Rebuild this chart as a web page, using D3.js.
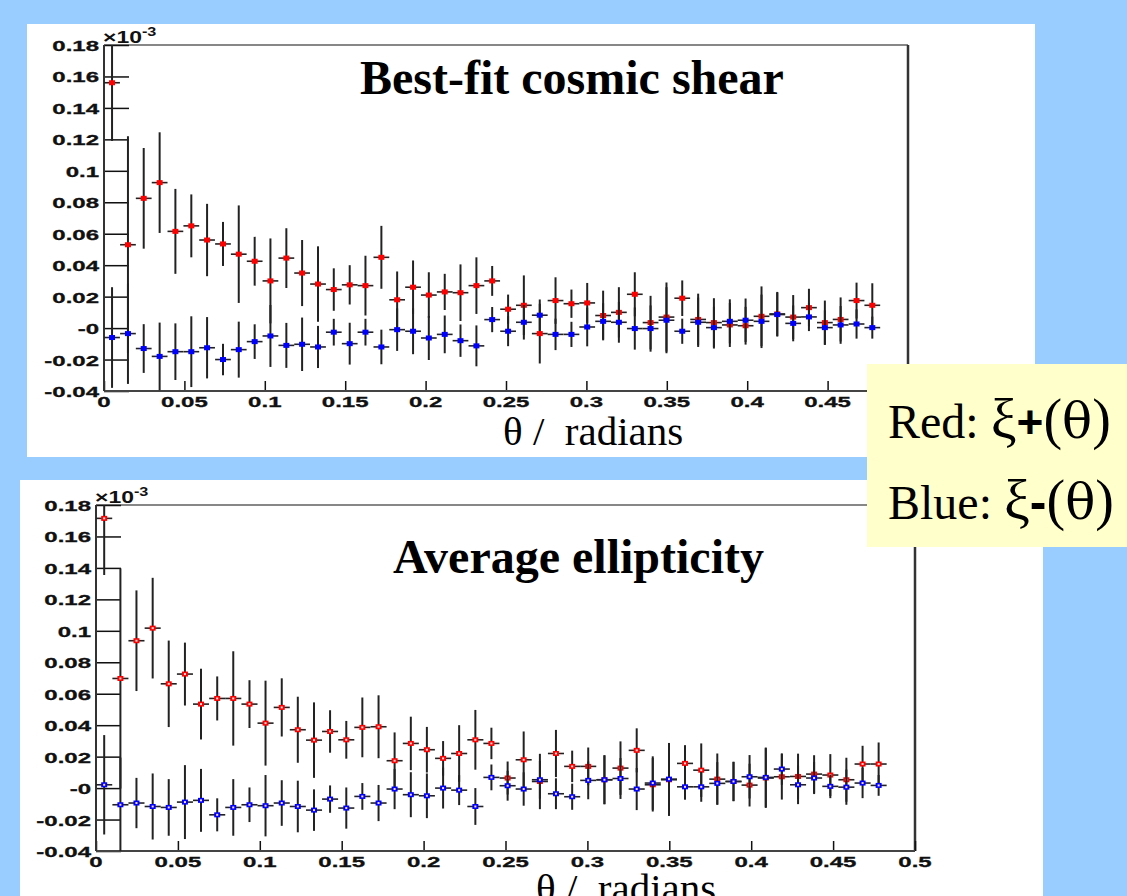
<!DOCTYPE html>
<html>
<head>
<meta charset="utf-8">
<script src="https://cdn.jsdelivr.net/npm/d3@7/dist/d3.min.js"></script>
<style>
body{margin:0;background:#99ccff;}
svg{display:block;}
</style>
</head>
<body>
<script>
// bin centres (radians)
const theta=[0.0050,0.0149,0.0247,0.0346,0.0444,0.0543,0.0641,0.0740,0.0838,0.0937,
 0.1035,0.1134,0.1232,0.1331,0.1429,0.1528,0.1626,0.1725,0.1823,0.1922,
 0.2020,0.2119,0.2217,0.2316,0.2414,0.2513,0.2611,0.2710,0.2808,0.2907,
 0.3005,0.3104,0.3202,0.3301,0.3399,0.3498,0.3596,0.3695,0.3793,0.3892,
 0.3990,0.4089,0.4187,0.4286,0.4384,0.4483,0.4581,0.4680,0.4778];
const binHalf=0.0049;

// best-fit cosmic shear (x1e-3)
const shearPlus=[0.156,0.053,0.0825,0.0925,0.0615,0.065,0.056,0.0535,0.047,0.0425,
 0.030,0.0445,0.035,0.028,0.0245,0.0275,0.027,0.045,0.018,0.026,
 0.021,0.023,0.0225,0.027,0.030,0.012,0.0145,-0.0035,0.0175,0.0155,
 0.016,0.008,0.010,0.0215,0.0035,0.007,0.019,0.0055,0.0035,0.002,
 0.0015,0.0075,0.009,0.007,0.013,0.0035,0.0055,0.0175,0.0145];
const shearPlusErr=[0.037,0.069,0.032,0.032,0.027,0.020,0.023,0.014,0.031,0.0155,
 0.027,0.019,0.021,0.024,0.0135,0.0125,0.019,0.020,0.018,0.017,
 0.0145,0.0115,0.018,0.018,0.0095,0.0093,0.019,0.019,0.0148,0.009,
 0.0127,0.0158,0.016,0.014,0.017,0.022,0.0113,0.0164,0.0155,0.014,
 0.012,0.019,0.014,0.014,0.012,0.014,0.014,0.0114,0.014];
const shearMinus=[-0.006,-0.0035,-0.013,-0.018,-0.015,-0.015,-0.0125,-0.020,-0.0137,-0.0086,
 -0.005,-0.011,-0.0103,-0.012,-0.0026,-0.0099,-0.0026,-0.012,-0.001,-0.002,
 -0.0063,-0.004,-0.008,-0.0113,0.0054,-0.002,0.0037,0.0082,-0.004,-0.004,
 0.0007,0.0043,0.0037,-0.0003,-0.0003,0.005,-0.002,0.0037,0.0003,0.0043,
 0.005,0.0043,0.0086,0.003,0.0071,0.0003,0.002,0.0026,0.0003];
const shearMinusErr=[0.032,0.032,0.0155,0.0215,0.018,0.0225,0.0195,0.010,0.0178,0.011,
 0.0197,0.0143,0.017,0.0134,0.0085,0.0133,0.0085,0.011,0.0135,0.0146,
 0.014,0.012,0.0103,0.013,0.008,0.0095,0.011,0.010,0.010,0.008,
 0.0123,0.0115,0.013,0.0134,0.0147,0.021,0.008,0.0157,0.0133,0.014,
 0.0138,0.017,0.014,0.0114,0.009,0.011,0.012,0.0093,0.007];

// average ellipticity (x1e-3)
const ellipPlus=[0.1715,0.0697,0.0937,0.1017,0.0663,0.0725,0.0534,0.057,0.057,0.0534,
 0.0413,0.0513,0.0371,0.0305,0.036,0.0307,0.0386,0.039,0.0174,0.0284,
 0.0244,0.0189,0.022,0.0307,0.0284,0.0064,0.018,0.0042,0.022,0.0138,
 0.0138,0.0053,0.0127,0.024,0.0021,0.0053,0.0157,0.0114,0.0057,0.0042,
 0.0019,0.0064,0.0072,0.0074,0.0089,0.0083,0.0053,0.0153,0.0153];
const ellipPlusErr=[0.036,0.070,0.032,0.032,0.0275,0.020,0.0225,0.014,0.030,0.0152,
 0.027,0.0185,0.021,0.024,0.0135,0.012,0.019,0.020,0.018,0.017,
 0.0145,0.011,0.018,0.019,0.010,0.0105,0.018,0.0176,0.015,0.010,
 0.012,0.0156,0.017,0.014,0.017,0.023,0.0116,0.017,0.0163,0.0125,
 0.0136,0.019,0.0145,0.0145,0.012,0.0133,0.014,0.0116,0.0137];
const ellipMinus=[0.0021,-0.0106,-0.0095,-0.0117,-0.0123,-0.0089,-0.0078,-0.017,-0.0123,-0.0106,
 -0.0112,-0.0095,-0.0117,-0.014,-0.007,-0.0127,-0.0053,-0.0095,-0.0006,-0.0042,
 -0.0049,0.0,-0.0013,-0.0117,0.0068,0.0015,-0.0006,0.0053,-0.0036,-0.0055,
 0.0049,0.0053,0.0061,-0.0006,0.0032,0.0057,0.0008,0.0008,0.003,0.0042,
 0.0072,0.0068,0.0121,0.0021,0.0064,0.0011,0.0006,0.0032,0.0017];
const ellipMinusErr=[0.0316,0.030,0.016,0.021,0.018,0.0235,0.020,0.0105,0.018,0.011,
 0.0195,0.0145,0.0164,0.0132,0.0087,0.0131,0.0085,0.0115,0.0128,0.0143,
 0.0142,0.013,0.0095,0.0117,0.0082,0.0095,0.0106,0.012,0.0098,0.0083,
 0.012,0.0155,0.013,0.0134,0.017,0.023,0.0082,0.0095,0.0135,0.0125,
 0.0138,0.019,0.01,0.0123,0.0102,0.0075,0.0112,0.0096,0.0066];

const xTicks=[0,0.05,0.1,0.15,0.2,0.25,0.3,0.35,0.4,0.45,0.5];
const xTickLabels=["0","0.05","0.1","0.15","0.2","0.25","0.3","0.35","0.4","0.45","0.5"];
const yTicks=[0.18,0.16,0.14,0.12,0.1,0.08,0.06,0.04,0.02,0,-0.02,-0.04];
const yTickLabels=["0.18","0.16","0.14","0.12","0.1","0.08","0.06","0.04","0.02","-0","-0.02","-0.04"];

const W=1127,H=896;
const svg=d3.select("body").append("svg").attr("width",W).attr("height",H);
svg.append("rect").attr("width",W).attr("height",H).attr("fill","#99ccff");

const panels=[
  {title:"Best-fit cosmic shear",plus:shearPlus,plusErr:shearPlusErr,minus:shearMinus,minusErr:shearMinusErr,
   bg:[27,24,1008,433],l:104,r:908,t:45,b:391,titleX:360,titleY:94,labX:503,labY:445,hollow:false},
  {title:"Average ellipticity",plus:ellipPlus,plusErr:ellipPlusErr,minus:ellipMinus,minusErr:ellipMinusErr,
   bg:[20,480,1023,416],l:96,r:915,t:505,b:851,titleX:393,titleY:573,labX:536,labY:902,hollow:true}
];

const tickFont="'Liberation Sans',Arial,sans-serif";
const serif="'Liberation Serif','Times New Roman',serif";

panels.forEach((p,k)=>{
  const g=svg.append("g");
  g.append("rect").attr("x",p.bg[0]).attr("y",p.bg[1]).attr("width",p.bg[2]).attr("height",p.bg[3]).attr("fill","#fff");

  const x=d3.scaleLinear().domain([0,0.5]).range([p.l,p.r]);
  const y=d3.scaleLinear().domain([-0.04,0.18]).range([p.b,p.t]);

  g.append("clipPath").attr("id","clip"+k).append("rect")
    .attr("x",p.l).attr("y",p.t).attr("width",p.r-p.l).attr("height",p.b-p.t);

  // frame
  g.append("line").attr("x1",p.l).attr("x2",p.r).attr("y1",p.t).attr("y2",p.t).attr("stroke","#111").attr("stroke-width",1.2);
  g.append("line").attr("x1",p.r).attr("x2",p.r).attr("y1",p.t).attr("y2",p.b).attr("stroke","#333").attr("stroke-width",2.5);

  // ticks point inward, ROOT style
  const xa=g.append("g").attr("transform",`translate(0,${p.b})`);
  xa.call(d3.axisBottom(x).ticks(50).tickSize(-5).tickFormat(""));
  xa.call(d3.axisBottom(x).tickValues(xTicks).tickSize(-10).tickFormat(""));
  xa.selectAll(".domain").remove();
  xa.selectAll("line").attr("stroke","#111").attr("stroke-width",1.5);

  const ya=g.append("g").attr("transform",`translate(${p.l},0)`);
  ya.call(d3.axisLeft(y).ticks(44).tickSize(-12).tickFormat(""));
  ya.call(d3.axisLeft(y).tickValues(yTicks).tickSize(-25).tickFormat(""));
  ya.selectAll(".domain").remove();
  ya.selectAll("line").attr("stroke","#111").attr("stroke-width",1.5);

  g.append("line").attr("x1",p.l).attr("x2",p.r).attr("y1",p.b).attr("y2",p.b).attr("stroke","#444").attr("stroke-width",2.2);
  g.append("line").attr("x1",p.l).attr("x2",p.l).attr("y1",p.t).attr("y2",p.b).attr("stroke","#333").attr("stroke-width",2);

  // tick labels (stretched bold sans)
  g.selectAll("text.xl").data(xTicks).enter().append("text").attr("class","xl")
    .attr("transform",d=>`translate(${x(d)},${p.b+16}) scale(1.6,1)`)
    .attr("text-anchor","middle").attr("font-family",tickFont).attr("font-weight","bold")
    .attr("font-size",15).attr("fill","#111").attr("stroke","#111").attr("stroke-width",0.3)
    .text((d,i)=>xTickLabels[i]);
  g.selectAll("text.yl").data(yTicks).enter().append("text").attr("class","yl")
    .attr("transform",d=>`translate(${p.l-5},${y(d)+6}) scale(1.6,1)`)
    .attr("text-anchor","end").attr("font-family",tickFont).attr("font-weight","bold")
    .attr("font-size",15).attr("fill","#111").attr("stroke","#111").attr("stroke-width",0.3)
    .text((d,i)=>yTickLabels[i]);

  // exponent
  const ex=g.append("text").attr("transform",`translate(${p.l-1},${p.t-2}) scale(1.35,1)`)
    .attr("font-family",tickFont).attr("font-weight","bold").attr("font-size",17).attr("fill","#111");
  ex.append("tspan").text("×10");
  ex.append("tspan").attr("dy",-7).attr("font-size",12).text("-3");

  // data
  const plot=g.append("g").attr("clip-path",`url(#clip${k})`);
  const series=[{v:p.plus,e:p.plusErr,c:"#ff0000"},{v:p.minus,e:p.minusErr,c:"#0000ff"}];
  series.forEach(s=>{
    const sg=plot.append("g");
    sg.selectAll("line.v").data(theta).enter().append("line").attr("class","v")
      .attr("x1",d=>x(d)).attr("x2",d=>x(d))
      .attr("y1",(d,i)=>y(s.v[i]+s.e[i])).attr("y2",(d,i)=>y(s.v[i]-s.e[i]))
      .attr("stroke","#222").attr("stroke-width",2);
    sg.selectAll("line.h").data(theta).enter().append("line").attr("class","h")
      .attr("x1",d=>x(d-binHalf)).attr("x2",d=>x(d+binHalf))
      .attr("y1",(d,i)=>y(s.v[i])).attr("y2",(d,i)=>y(s.v[i]))
      .attr("stroke","#222").attr("stroke-width",1.6);
    sg.selectAll("rect.m").data(theta).enter().append("rect").attr("class","m")
      .attr("x",d=>x(d)-3).attr("y",(d,i)=>y(s.v[i])-2.5)
      .attr("width",6).attr("height",5).attr("fill",s.c);
    if(p.hollow){
      sg.selectAll("rect.hole").data(theta).enter().append("rect").attr("class","hole")
        .attr("x",d=>x(d)-1).attr("y",(d,i)=>y(s.v[i])-1)
        .attr("width",2).attr("height",2).attr("fill","#fdd");
    }
  });

  // title + axis label
  g.append("text").attr("x",p.titleX).attr("y",p.titleY).attr("font-family",serif)
    .attr("font-weight","bold").attr("font-size",48).attr("fill","#000").text(p.title);
  g.append("text").attr("x",p.labX).attr("y",p.labY).attr("font-family",serif)
    .attr("font-size",41).attr("fill","#000").style("white-space","pre").text("θ /  radians");
});

// legend box
const leg=svg.append("g");
leg.append("rect").attr("x",867).attr("y",364).attr("width",260).attr("height",183).attr("fill","#ffffcc");
const legendRows=[{name:"Red: ",sign:"+",y:438},{name:"Blue: ",sign:"-",y:519}];
legendRows.forEach(r=>{
  const t=leg.append("text").attr("x",888).attr("y",r.y).attr("font-family",serif).attr("font-size",48).attr("fill","#000")
    .style("white-space","pre");
  t.append("tspan").text(r.name);
  t.append("tspan").attr("font-size",58).text("ξ");
  t.append("tspan").attr("font-family",tickFont).attr("font-weight","bold").attr("font-size",r.sign==="+"?46:50).text(r.sign);
  t.append("tspan").attr("font-size",56).text("(");
  t.append("tspan").attr("font-family","'DejaVu Serif',serif").attr("font-size",50).text("θ");
  t.append("tspan").attr("font-size",56).text(")");
});
</script>
</body>
</html>
